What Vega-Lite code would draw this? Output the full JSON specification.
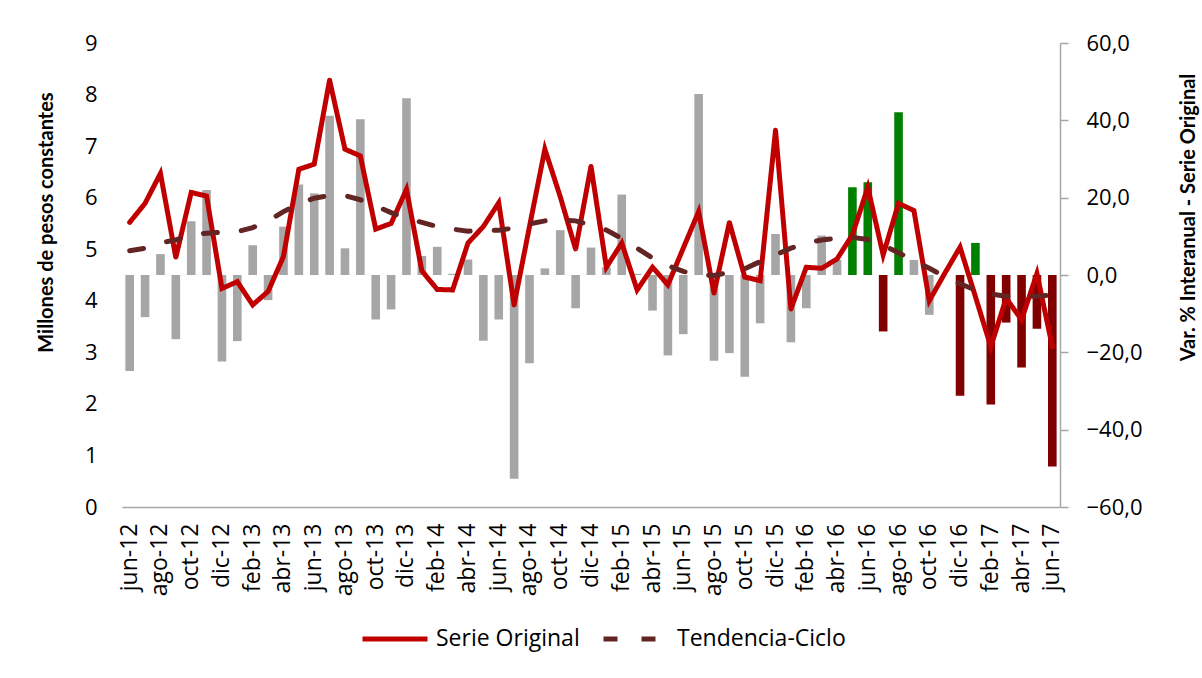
{
  "$schema": "https://vega.github.io/schema/vega-lite/v6.json",
  "width": 938,
  "height": 464,
  "autosize": {"type": "none"},
  "padding": {"left": 122, "top": 43, "right": 142, "bottom": 171},
  "background": "white",
  "config": {"font": "Open Sans", "view": {"stroke": null}},
  "data": {"values": [
    {"mes": "jun-12", "original": 5.52, "tendencia": 4.97, "var": -24.8, "grupo": "Resto"},
    {"mes": "jul-12", "original": 5.89, "tendencia": 5.02, "var": -10.9, "grupo": "Resto"},
    {"mes": "ago-12", "original": 6.47, "tendencia": 5.12, "var": 5.4, "grupo": "Resto"},
    {"mes": "sep-12", "original": 4.84, "tendencia": 5.18, "var": -16.6, "grupo": "Resto"},
    {"mes": "oct-12", "original": 6.10, "tendencia": 5.28, "var": 13.9, "grupo": "Resto"},
    {"mes": "nov-12", "original": 6.03, "tendencia": 5.31, "var": 22.0, "grupo": "Resto"},
    {"mes": "dic-12", "original": 4.24, "tendencia": 5.33, "var": -22.4, "grupo": "Resto"},
    {"mes": "ene-13", "original": 4.37, "tendencia": 5.34, "var": -17.1, "grupo": "Resto"},
    {"mes": "feb-13", "original": 3.92, "tendencia": 5.42, "var": 7.7, "grupo": "Resto"},
    {"mes": "mar-13", "original": 4.18, "tendencia": 5.55, "var": -6.5, "grupo": "Resto"},
    {"mes": "abr-13", "original": 4.86, "tendencia": 5.73, "var": 12.5, "grupo": "Resto"},
    {"mes": "may-13", "original": 6.55, "tendencia": 5.88, "var": 23.4, "grupo": "Resto"},
    {"mes": "jun-13", "original": 6.65, "tendencia": 5.99, "var": 21.1, "grupo": "Resto"},
    {"mes": "jul-13", "original": 8.28, "tendencia": 6.04, "var": 41.2, "grupo": "Resto"},
    {"mes": "ago-13", "original": 6.94, "tendencia": 6.04, "var": 6.9, "grupo": "Resto"},
    {"mes": "sep-13", "original": 6.81, "tendencia": 5.96, "var": 40.3, "grupo": "Resto"},
    {"mes": "oct-13", "original": 5.39, "tendencia": 5.84, "var": -11.5, "grupo": "Resto"},
    {"mes": "nov-13", "original": 5.50, "tendencia": 5.71, "var": -8.9, "grupo": "Resto"},
    {"mes": "dic-13", "original": 6.16, "tendencia": 5.60, "var": 45.7, "grupo": "Resto"},
    {"mes": "ene-14", "original": 4.58, "tendencia": 5.52, "var": 4.9, "grupo": "Resto"},
    {"mes": "feb-14", "original": 4.22, "tendencia": 5.44, "var": 7.3, "grupo": "Resto"},
    {"mes": "mar-14", "original": 4.21, "tendencia": 5.39, "var": 0.3, "grupo": "Resto"},
    {"mes": "abr-14", "original": 5.12, "tendencia": 5.35, "var": 4.0, "grupo": "Resto"},
    {"mes": "may-14", "original": 5.44, "tendencia": 5.36, "var": -17.0, "grupo": "Resto"},
    {"mes": "jun-14", "original": 5.90, "tendencia": 5.37, "var": -11.5, "grupo": "Resto"},
    {"mes": "jul-14", "original": 3.92, "tendencia": 5.41, "var": -52.7, "grupo": "Resto"},
    {"mes": "ago-14", "original": 5.44, "tendencia": 5.49, "var": -22.8, "grupo": "Resto"},
    {"mes": "sep-14", "original": 6.94, "tendencia": 5.55, "var": 1.7, "grupo": "Resto"},
    {"mes": "oct-14", "original": 6.02, "tendencia": 5.57, "var": 11.6, "grupo": "Resto"},
    {"mes": "nov-14", "original": 5.00, "tendencia": 5.55, "var": -8.6, "grupo": "Resto"},
    {"mes": "dic-14", "original": 6.61, "tendencia": 5.47, "var": 7.1, "grupo": "Resto"},
    {"mes": "ene-15", "original": 4.65, "tendencia": 5.37, "var": 2.0, "grupo": "Resto"},
    {"mes": "feb-15", "original": 5.12, "tendencia": 5.21, "var": 20.8, "grupo": "Resto"},
    {"mes": "mar-15", "original": 4.21, "tendencia": 5.02, "var": 0.3, "grupo": "Resto"},
    {"mes": "abr-15", "original": 4.65, "tendencia": 4.83, "var": -9.2, "grupo": "Resto"},
    {"mes": "may-15", "original": 4.31, "tendencia": 4.68, "var": -20.8, "grupo": "Resto"},
    {"mes": "jun-15", "original": 5.02, "tendencia": 4.57, "var": -15.3, "grupo": "Resto"},
    {"mes": "jul-15", "original": 5.73, "tendencia": 4.50, "var": 46.8, "grupo": "Resto"},
    {"mes": "ago-15", "original": 4.15, "tendencia": 4.49, "var": -22.2, "grupo": "Resto"},
    {"mes": "sep-15", "original": 5.52, "tendencia": 4.55, "var": -20.2, "grupo": "Resto"},
    {"mes": "oct-15", "original": 4.46, "tendencia": 4.62, "var": -26.3, "grupo": "Resto"},
    {"mes": "nov-15", "original": 4.39, "tendencia": 4.76, "var": -12.5, "grupo": "Resto"},
    {"mes": "dic-15", "original": 7.31, "tendencia": 4.89, "var": 10.6, "grupo": "Resto"},
    {"mes": "ene-16", "original": 3.84, "tendencia": 5.02, "var": -17.4, "grupo": "Resto"},
    {"mes": "feb-16", "original": 4.65, "tendencia": 5.12, "var": -8.6, "grupo": "Resto"},
    {"mes": "mar-16", "original": 4.63, "tendencia": 5.18, "var": 10.2, "grupo": "Resto"},
    {"mes": "abr-16", "original": 4.81, "tendencia": 5.21, "var": 3.9, "grupo": "Resto"},
    {"mes": "may-16", "original": 5.28, "tendencia": 5.23, "var": 22.7, "grupo": "Positiva"},
    {"mes": "jun-16", "original": 6.20, "tendencia": 5.19, "var": 24.0, "grupo": "Positiva"},
    {"mes": "jul-16", "original": 4.89, "tendencia": 5.08, "var": -14.6, "grupo": "Negativa"},
    {"mes": "ago-16", "original": 5.89, "tendencia": 4.93, "var": 42.1, "grupo": "Positiva"},
    {"mes": "sep-16", "original": 5.75, "tendencia": 4.78, "var": 3.9, "grupo": "Resto"},
    {"mes": "oct-16", "original": 4.00, "tendencia": 4.63, "var": -10.3, "grupo": "Resto"},
    {"mes": "nov-16", "original": 4.53, "tendencia": 4.47, "var": 0.0, "grupo": "Resto"},
    {"mes": "dic-16", "original": 5.04, "tendencia": 4.33, "var": -31.2, "grupo": "Negativa"},
    {"mes": "ene-17", "original": 4.08, "tendencia": 4.21, "var": 8.3, "grupo": "Positiva"},
    {"mes": "feb-17", "original": 3.11, "tendencia": 4.13, "var": -33.5, "grupo": "Negativa"},
    {"mes": "mar-17", "original": 4.05, "tendencia": 4.09, "var": -12.3, "grupo": "Negativa"},
    {"mes": "abr-17", "original": 3.63, "tendencia": 4.08, "var": -23.9, "grupo": "Negativa"},
    {"mes": "may-17", "original": 4.53, "tendencia": 4.09, "var": -13.9, "grupo": "Negativa"},
    {"mes": "jun-17", "original": 3.11, "tendencia": 4.11, "var": -49.5, "grupo": "Negativa"}
  ]},
  "encoding": {
    "x": {
      "field": "mes", "type": "nominal", "sort": null,
      "scale": {"paddingInner": 0, "paddingOuter": 0},
      "axis": {
        "title": null,
        "values": ["jun-12","ago-12","oct-12","dic-12","feb-13","abr-13","jun-13","ago-13","oct-13","dic-13","feb-14","abr-14","jun-14","ago-14","oct-14","dic-14","feb-15","abr-15","jun-15","ago-15","oct-15","dic-15","feb-16","abr-16","jun-16","ago-16","oct-16","dic-16","feb-17","abr-17","jun-17"],
        "labelAngle": -90, "labelFontSize": 23, "labelPadding": 16, "labelColor": "#000000",
        "ticks": false, "domainColor": "#A6A6A6", "domainWidth": 1.5, "grid": false
      }
    }
  },
  "layer": [
    {
      "mark": {"type": "bar", "width": {"band": 0.56}},
      "encoding": {
        "y": {
          "field": "var", "type": "quantitative",
          "scale": {"domain": [-60, 60], "nice": false},
          "axis": {
            "orient": "right", "values": [-60, -40, -20, 0, 20, 40, 60],
            "labelExpr": "replace(format(datum.value, '.1f'), '.', ',')",
            "labelFontSize": 22, "labelColor": "#000000", "labelPadding": 18,
            "domainColor": "#A6A6A6", "domainWidth": 1.5, "tickColor": "#A6A6A6", "tickWidth": 1.5, "tickSize": 8,
            "grid": false,
            "title": "Var. % Interanual - Serie Original", "titleFont": "Lato", "titleFontSize": 20, "titleFontWeight": "bold", "titleColor": "#000000",
            "titleAngle": 270, "titleX": 128, "titleY": 174, "titleAlign": "center", "titleBaseline": "middle"
          }
        },
        "fill": {
          "field": "grupo", "type": "nominal",
          "scale": {"domain": ["Resto", "Positiva", "Negativa"], "range": ["#A6A6A6", "#008000", "#800000"]},
          "legend": null
        }
      }
    },
    {
      "transform": [{"fold": ["original", "tendencia"], "as": ["serie", "valor"]}],
      "mark": {"type": "line", "strokeWidth": 5, "strokeCap": "round"},
      "encoding": {
        "y": {
          "field": "valor", "type": "quantitative",
          "scale": {"domain": [0, 9], "nice": false},
          "axis": {
            "orient": "left", "values": [0, 1, 2, 3, 4, 5, 6, 7, 8, 9],
            "labelFontSize": 22, "labelColor": "#000000", "labelPadding": 25,
            "domain": false, "ticks": false, "grid": false,
            "title": "Millones de pesos constantes", "titleFont": "Lato", "titleFontSize": 20, "titleFontWeight": "bold", "titleColor": "#000000",
            "titleAngle": 270, "titleX": -76, "titleY": 179, "titleAlign": "center", "titleBaseline": "middle"
          }
        },
        "stroke": {
          "field": "serie", "type": "nominal",
          "scale": {"domain": ["original", "tendencia"], "range": ["#C00000", "#632523"]},
          "legend": {
            "orient": "none", "legendX": 238, "legendY": 561, "padding": 0,
            "direction": "horizontal", "title": null,
            "labelExpr": "datum.value == 'original' ? 'Serie Original' : 'Tendencia-Ciclo'",
            "labelFontSize": 23, "labelColor": "#000000", "labelLimit": 400, "labelOffset": 6,
            "symbolType": "stroke", "symbolSize": 4225, "symbolStrokeWidth": 5, "columnPadding": 13
          }
        },
        "strokeDash": {
          "field": "serie", "type": "nominal",
          "scale": {"domain": ["original", "tendencia"], "range": [[1, 0], [14, 24]]},
          "legend": {
            "orient": "none", "legendX": 238, "legendY": 561, "padding": 0,
            "direction": "horizontal", "title": null,
            "labelExpr": "datum.value == 'original' ? 'Serie Original' : 'Tendencia-Ciclo'",
            "labelFontSize": 23, "labelColor": "#000000", "labelLimit": 400, "labelOffset": 6,
            "symbolType": "stroke", "symbolSize": 4225, "symbolStrokeWidth": 5, "columnPadding": 13
          }
        }
      }
    }
  ],
  "resolve": {"scale": {"y": "independent"}}
}
